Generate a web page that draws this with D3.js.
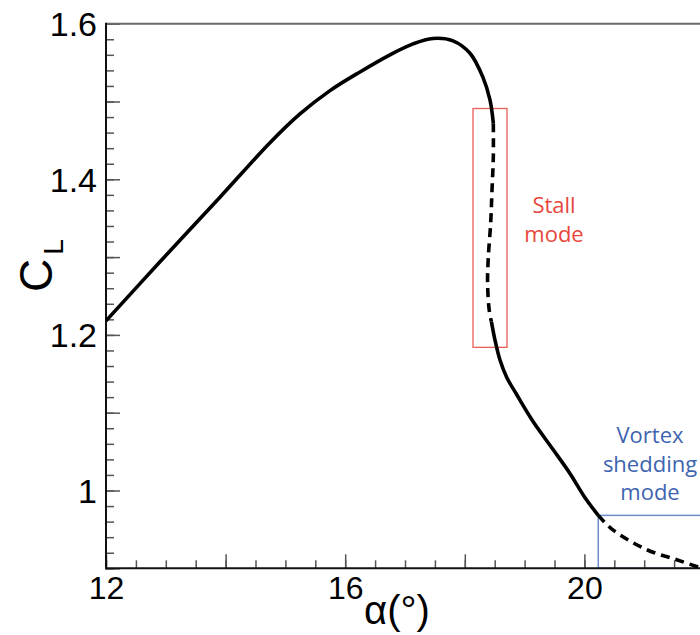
<!DOCTYPE html>
<html>
<head>
<meta charset="utf-8">
<script src="https://cdn.jsdelivr.net/npm/d3@7"></script>
<style>
  html, body { margin: 0; padding: 0; background: #fff; }
  svg { display: block; }
</style>
</head>
<body>
<svg id="chart" width="700" height="635"></svg>
<script>
// ---- data ----
const alpha = [12.000, 12.903, 13.906, 14.742, 15.244, 15.746, 16.247, 16.749, 17.134, 17.468,
               17.803, 18.087, 18.304, 18.421, 18.477, 18.477, 18.455, 18.433, 18.393, 18.381,
               18.408, 18.445, 18.503, 18.587, 18.704, 18.855, 19.139, 19.473, 19.758, 20.008,
               20.232, 20.482, 21.040, 21.542, 21.930];
const cl    = [1.218, 1.294, 1.377, 1.447, 1.484, 1.514, 1.538, 1.560, 1.574, 1.581,
               1.578, 1.562, 1.531, 1.502, 1.472, 1.429, 1.386, 1.344, 1.300, 1.267,
               1.232, 1.217, 1.194, 1.168, 1.145, 1.125, 1.089, 1.053, 1.022, 0.991,
               0.968, 0.949, 0.924, 0.911, 0.901];
// branches: [first index, last index, kind]
const branches = [[0, 14, "stable"], [14, 21, "unstable"], [21, 30, "stable"], [30, 34, "unstable"]];

const xTickLabels = [12, 16, 20];
const yTickLabels = [1, 1.2, 1.4, 1.6];

// annotation regions in data coordinates
const stallBox  = {a0: 18.137, a1: 18.706, c0: 1.184, c1: 1.491};
const vortexBox = {a0: 20.232, a1: 22.2, c0: 0.9, c1: 0.968};
const stallText  = ["Stall", "mode"];
const vortexText = ["Vortex", "shedding", "mode"];

// ---- layout ----
const svg = d3.select("#chart");
const L = 106, R = 704, T = 23.7, B = 568.3;
const x = d3.scaleLinear().domain([12, 22]).range([L, R]);
const y = d3.scaleLinear().domain([0.9, 1.6]).range([B, T]);

svg.append("defs").append("clipPath").attr("id", "clip")
  .append("rect").attr("x", L).attr("y", T).attr("width", R - L).attr("height", B - T);

// annotation boxes
svg.append("rect")
  .attr("x", x(stallBox.a0)).attr("y", y(stallBox.c1))
  .attr("width", x(stallBox.a1) - x(stallBox.a0))
  .attr("height", y(stallBox.c0) - y(stallBox.c1))
  .attr("fill", "none").attr("stroke", "#ea5f57").attr("stroke-width", 1.3);

svg.append("rect")
  .attr("x", x(vortexBox.a0)).attr("y", y(vortexBox.c1))
  .attr("width", x(vortexBox.a1) - x(vortexBox.a0))
  .attr("height", y(vortexBox.c0) - y(vortexBox.c1))
  .attr("fill", "none").attr("stroke", "#6d8cc9").attr("stroke-width", 1.5);

// ---- axes ----
const tickColor = "#555";
const yMinor = d3.range(45, 81).map(i => +(i * 0.02).toFixed(2));
const yMajor = d3.range(9, 17).map(i => +(i * 0.1).toFixed(1));
const gy1 = svg.append("g").attr("transform", `translate(${L},0)`)
  .call(d3.axisRight(y).tickValues(yMinor).tickSize(8).tickFormat(""));
const gy2 = svg.append("g").attr("transform", `translate(${L},0)`)
  .call(d3.axisRight(y).tickValues(yMajor).tickSize(14).tickFormat(""));
[gy1, gy2].forEach(g => {
  g.select(".domain").remove();
  g.selectAll(".tick line").attr("stroke", tickColor).attr("stroke-width", 1.5);
});
const gyl = svg.append("g").attr("transform", `translate(${L},0)`)
  .call(d3.axisLeft(y).tickValues(yTickLabels).tickSize(0).tickPadding(9).tickFormat(d3.format("")));
gyl.select(".domain").remove();
gyl.selectAll("text").attr("font-family", "Liberation Sans, Arial, sans-serif")
  .attr("font-size", 34).attr("fill", "#000").attr("dy", "0.35em");

const xMinor = d3.range(24, 45).map(i => i * 0.5);
const xMajor = d3.range(6, 12).map(i => i * 2);
const gx1 = svg.append("g").attr("transform", `translate(0,${B})`)
  .call(d3.axisTop(x).tickValues(xMinor).tickSize(8).tickFormat(""));
const gx2 = svg.append("g").attr("transform", `translate(0,${B})`)
  .call(d3.axisTop(x).tickValues(xMajor).tickSize(14).tickFormat(""));
[gx1, gx2].forEach(g => {
  g.select(".domain").remove();
  g.selectAll(".tick line").attr("stroke", tickColor).attr("stroke-width", 1.5);
});
const gxl = svg.append("g").attr("transform", `translate(0,${B})`)
  .call(d3.axisBottom(x).tickValues(xTickLabels).tickSize(0).tickPadding(8).tickFormat(d3.format("")));
gxl.select(".domain").remove();
gxl.selectAll("text").attr("font-family", "Liberation Sans, Arial, sans-serif")
  .attr("font-size", 32).attr("fill", "#000").attr("dy", "0.71em");

// frame lines
svg.append("line").attr("x1", L).attr("x2", 700).attr("y1", T).attr("y2", T)
  .attr("stroke", "#6a6a6a").attr("stroke-width", 2);
svg.append("line").attr("x1", L).attr("x2", L).attr("y1", T - 1).attr("y2", B + 1)
  .attr("stroke", "#111").attr("stroke-width", 2);
svg.append("line").attr("x1", L - 1).attr("x2", 700).attr("y1", B).attr("y2", B)
  .attr("stroke", "#111").attr("stroke-width", 2);

// ---- curve ----
const pts = alpha.map((a, i) => [a, cl[i]]);
const line = d3.line().x(d => x(d[0])).y(d => y(d[1])).curve(d3.curveCatmullRom.alpha(0.5));
const cg = svg.append("g").attr("clip-path", "url(#clip)");
branches.forEach(([i0, i1, kind]) => {
  cg.append("path")
    .attr("d", line(pts.slice(i0, i1 + 1)))
    .attr("fill", "none").attr("stroke", "#000").attr("stroke-width", 3.6)
    .attr("stroke-dasharray", kind === "unstable" ? "9,6" : null);
});

// ---- annotation text ----
const annFont = "Open Sans, Lato, sans-serif";
svg.append("text").attr("font-family", annFont).attr("font-size", 22)
  .attr("fill", "#e8473d").attr("text-anchor", "middle")
  .selectAll("tspan").data(stallText).join("tspan")
  .attr("x", 554).attr("y", (d, i) => 212.7 + i * 29).text(d => d);

svg.append("text").attr("font-family", annFont).attr("font-size", 22)
  .attr("fill", "#3e64b0").attr("text-anchor", "middle")
  .selectAll("tspan").data(vortexText).join("tspan")
  .attr("x", 650).attr("y", (d, i) => 443.3 + i * 28.5).text(d => d);

// ---- axis titles ----
const yt = svg.append("text")
  .attr("transform", "translate(51.7,292) rotate(-90)")
  .attr("font-family", "Liberation Sans, Arial, sans-serif").attr("fill", "#000");
yt.append("tspan").attr("font-size", 46).text("C");
yt.append("tspan").attr("font-size", 28).attr("dx", 4).attr("dy", 11.6).text("L");

svg.append("text")
  .attr("x", 397).attr("y", 624)
  .attr("text-anchor", "middle")
  .attr("font-family", "Liberation Sans, Arial, sans-serif")
  .attr("font-size", 40).attr("fill", "#000")
  .text("α(°)");
</script>
</body>
</html>
